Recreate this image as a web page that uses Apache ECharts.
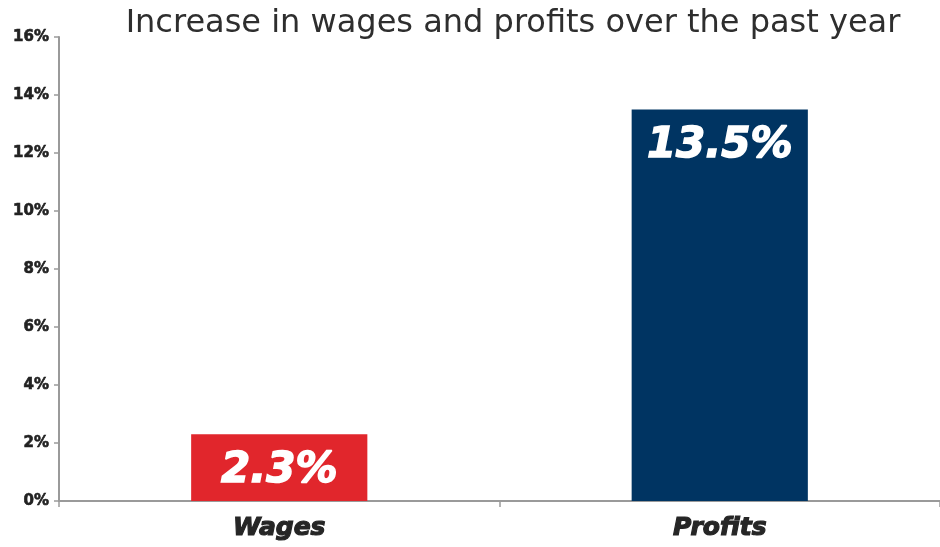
<!DOCTYPE html>
<html>
<head>
<meta charset="utf-8">
<script src="https://cdn.jsdelivr.net/npm/echarts@6/dist/echarts.min.js"></script>
<style>
  html, body { margin: 0; padding: 0; background: #fff; }
  #chart { width: 940px; height: 547px; }
</style>
</head>
<body>
<div id="chart"></div>
<script>
// Year-over-year increase, in percent
const categories = ['Wages', 'Profits'];
const increases = [2.3, 13.5];
const barColors = ['#e1262c', '#003462'];
const yTicks = [0, 2, 4, 6, 8, 10, 12, 14, 16];

const chart = echarts.init(document.getElementById('chart'));

chart.setOption({
  animation: false,
  backgroundColor: '#ffffff',
  title: {
    text: 'Increase in wages and profits over the past year',
    left: 508,
    textAlign: 'center',
    top: 3,
    textStyle: {
      fontFamily: 'DejaVu Sans',
      fontWeight: 'normal',
      fontSize: 32,
      color: '#2e2e2e'
    }
  },
  grid: { left: 59, right: -2, top: 37, bottom: 46 },
  xAxis: {
    type: 'category',
    data: categories,
    axisLine: { lineStyle: { color: '#9a9a9a', width: 2 } },
    axisTick: { show: true, alignWithLabel: false, length: 6, lineStyle: { color: '#9a9a9a', width: 1.5 } },
    axisLabel: {
      margin: 15,
      fontFamily: 'DejaVu Sans',
      fontWeight: 'bold',
      fontStyle: 'italic',
      fontSize: 25,
      color: '#262626',
      textBorderColor: '#262626',
      textBorderWidth: 1.2
    }
  },
  yAxis: {
    type: 'value',
    min: yTicks[0],
    max: yTicks[yTicks.length - 1],
    interval: yTicks[1] - yTicks[0],
    splitLine: { show: false },
    axisLine: { show: true, lineStyle: { color: '#9a9a9a', width: 2 } },
    axisTick: { show: true, length: 5, lineStyle: { color: '#9a9a9a', width: 1.5 } },
    axisLabel: {
      margin: 10,
      fontFamily: 'DejaVu Sans',
      fontWeight: 'bold',
      fontSize: 15,
      color: '#222222',
      textBorderColor: '#222222',
      textBorderWidth: 0.6,
      formatter: v => v + '%'
    }
  },
  series: [{
    type: 'bar',
    barWidth: '40%',
    data: increases.map((v, i) => ({ value: v, itemStyle: { color: barColors[i] } })),
    label: {
      show: true,
      position: 'insideTop',
      distance: 16,
      formatter: p => p.value + '%',
      fontFamily: 'DejaVu Sans',
      fontWeight: 'bold',
      fontStyle: 'italic',
      fontSize: 42,
      color: '#ffffff',
      textBorderColor: '#ffffff',
      textBorderWidth: 1.5
    }
  }]
});
</script>
</body>
</html>
